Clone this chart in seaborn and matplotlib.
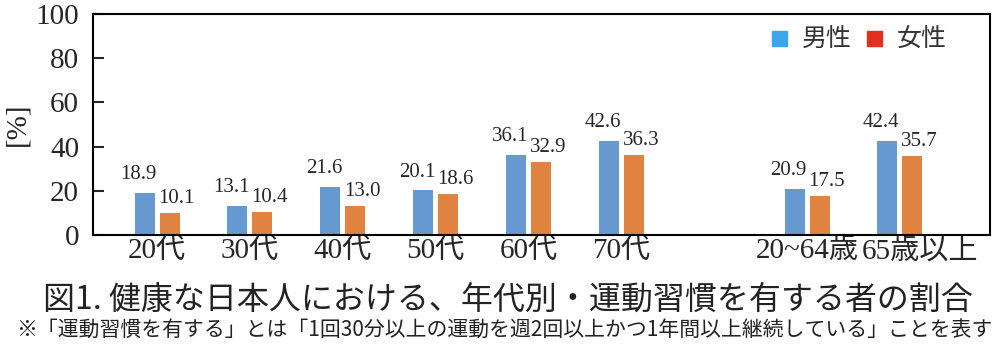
import matplotlib
matplotlib.use("Agg")
import matplotlib.pyplot as plt
import matplotlib.patches as mpatches
import matplotlib.transforms as mtransforms
import seaborn as sns
import pandas as pd

# Age groups and exercise-habit rates [%]
groups = ["20代", "30代", "40代", "50代", "60代", "70代", "20~64歳", "65歳以上"]
male = [18.9, 13.1, 21.6, 20.1, 36.1, 42.6, 20.9, 42.4]
female = [10.1, 10.4, 13.0, 18.6, 32.9, 36.3, 17.5, 35.7]
sexes = ["男性", "女性"]
yticks = [0, 20, 40, 60, 80, 100]

title = "図1. 健康な日本人における、年代別・運動習慣を有する者の割合"
note = "※「運動習慣を有する」とは「1回30分以上の運動を週2回以上かつ1年間以上継続している」ことを表す"

df = pd.DataFrame({
    "group": groups * 2,
    "sex": [sexes[0]] * len(groups) + [sexes[1]] * len(groups),
    "value": male + female,
})

sns.set_theme(style="white")
SERIF = ["Liberation Serif", "Noto Sans CJK JP"]
SANS = ["Noto Sans CJK JP", "DejaVu Sans"]
plt.rcParams["font.family"] = SERIF

bar_colors = {"男性": "#6699D0", "女性": "#E08240"}
legend_colors = {"男性": "#3DA5EC", "女性": "#E2301E"}

fig = plt.figure(figsize=(10, 3.5), dpi=100)
ax = fig.add_axes([0.093, 0.329, 0.897, 0.631])

# leave an empty slot between the age bands and the two summary groups
order = groups[:6] + [" "] + groups[6:]
sns.barplot(data=df, x="group", y="value", hue="sex", order=order,
            hue_order=sexes, palette=bar_colors, saturation=1,
            width=0.54, gap=0.2, ax=ax, legend=False, edgecolor="none")

# value labels: male labels lean left, female labels lean right
offsets = [(-4.5, 10.0), (5.0, 7.0)]
for container, (dx, dy) in zip(ax.containers, offsets):
    for bar in container:
        h = bar.get_height()
        ax.annotate(f"{h:.1f}", (bar.get_x() + bar.get_width() / 2, h),
                    xytext=(dx, dy), textcoords="offset points",
                    ha="center", va="baseline", fontsize=15, family=SERIF)

ax.set_ylim(0, 100)
ax.set_yticks(yticks)
ax.set_xlim(-0.69, len(order) - 0.03)
ax.set_xlabel("")
ax.set_ylabel("[%]", fontsize=21, labelpad=4)
ax.tick_params(axis="y", direction="in", length=8, width=1.5,
               labelsize=21, pad=10, left=True)
ax.tick_params(axis="x", length=0, labelsize=21, pad=2)
for lbl in ax.get_xticklabels() + ax.get_yticklabels():
    lbl.set_family(SERIF)

# nudge the last group label right so it clears its neighbour
last = ax.get_xticklabels()[-1]
last.set_transform(last.get_transform() +
                   mtransforms.ScaledTranslation(0.2, 0, fig.dpi_scale_trans))

for s in ax.spines.values():
    s.set_visible(True)
    s.set_color("black")
    s.set_linewidth(1.5)

handles = [mpatches.Patch(color=legend_colors[s], label=s) for s in sexes]
leg = ax.legend(handles=handles, loc="upper right", ncol=2, frameon=False,
                bbox_to_anchor=(0.963, 0.985), borderaxespad=0,
                handlelength=0.6, handleheight=0.6, handletextpad=0.6,
                columnspacing=0.6, prop={"family": SANS, "size": 18})
for t in leg.get_texts():
    t.set_color("#333333")

fig.text(0.508, 0.143, title, ha="center", va="center", fontsize=23,
         family=SANS, color="#222222")
fig.text(0.504, 0.057, note, ha="center", va="center", fontsize=15,
         family=SANS, color="#222222")

fig.savefig("out.png", dpi=100)
